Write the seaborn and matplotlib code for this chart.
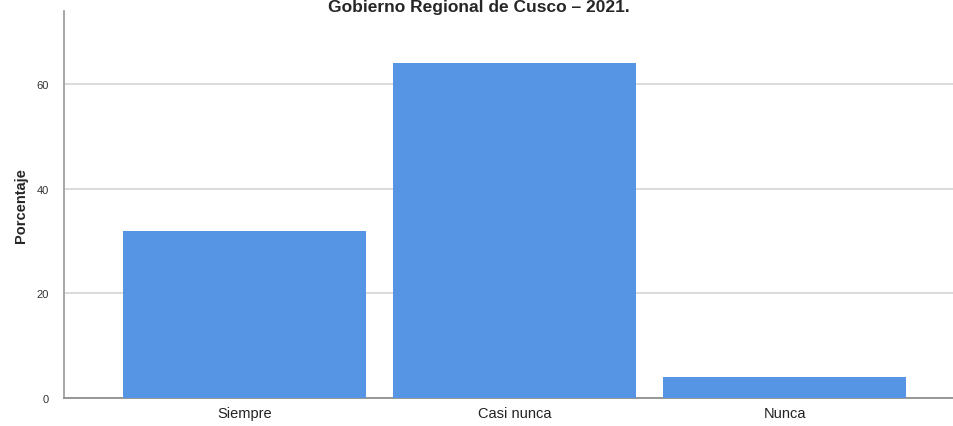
import matplotlib
matplotlib.use("Agg")
import matplotlib.pyplot as plt
import seaborn as sns
import pandas as pd

categories = ["Siempre", "Casi nunca", "Nunca"]
percentages = [32, 64, 4]
yticks = [0, 20, 40, 60]
title = "Gobierno Regional de Cusco – 2021."

sns.set_style("white")
plt.rcParams["font.family"] = ["Liberation Sans", "DejaVu Sans"]

df = pd.DataFrame({"categoria": categories, "porcentaje": percentages})

fig = plt.figure(figsize=(9.54, 4.27), dpi=100)
ax = fig.add_axes([64 / 954, 28 / 427, 1 - 64 / 954, (399 - 12) / 427])

sns.barplot(data=df, x="categoria", y="porcentaje", color="#5595E3",
            saturation=1, width=0.9, linewidth=0, ax=ax, zorder=3)

ax.set_ylim(0, 74)
ax.set_xlim(-0.667, 2.626)
ax.set_yticks(yticks)
ax.yaxis.grid(True, color="#d4d4d4", linewidth=1.2, zorder=0)
ax.set_axisbelow(True)

for side in ["top", "right"]:
    ax.spines[side].set_visible(False)
ax.spines["left"].set_color("#a0a0a0")
ax.spines["bottom"].set_color("#909090")
ax.spines["left"].set_linewidth(1.3)
ax.spines["bottom"].set_linewidth(1.3)

ax.tick_params(axis="y", length=0, labelsize=8, labelcolor="#333333", pad=11)
ax.tick_params(axis="x", length=0, labelsize=10.5, labelcolor="#222222", pad=6)
ax.set_xlabel("")
ax.set_ylabel("Porcentaje", fontsize=10.5, fontweight="bold", labelpad=6)

# título en la parte superior (en la referencia aparece recortado)
fig.text(0.502, 0.999, title, ha="center", va="top", fontsize=12.5, fontweight="bold")

fig.savefig("out.png", dpi=100)
